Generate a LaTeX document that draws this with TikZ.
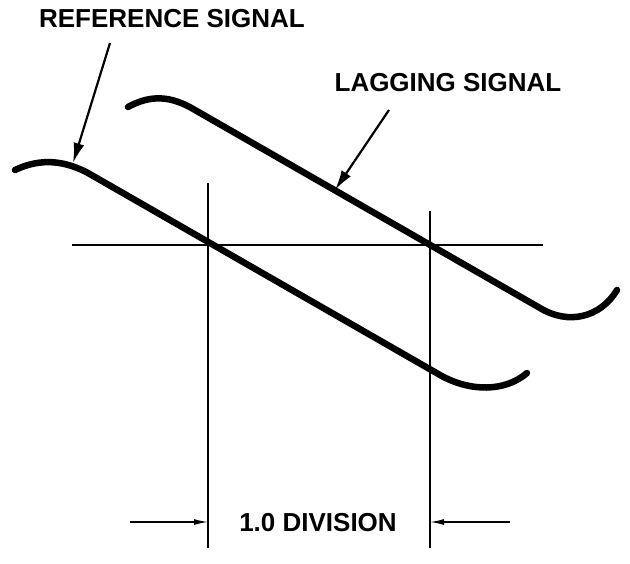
\documentclass[tikz,border=0pt]{standalone}
\usepackage{fontspec}
\setmainfont{Liberation Sans}
\usetikzlibrary{arrows.meta}

\begin{document}
\begin{tikzpicture}[x=1pt,y=-1pt,>=Latex,
 label/.style={font=\fontsize{26}{30}\selectfont\bfseries,inner sep=0pt},
 signal/.style={line width=6.5pt,line cap=round},
 grid/.style={line width=1.4pt},
 pointer/.style={line width=2.2pt,-{Latex[length=20pt,width=11pt]}},
 dim/.style={line width=1.4pt,-{Latex[length=14pt,width=6pt]}}]
\useasboundingbox (0,0) rectangle (630,563);
% labels
\node[label] (ref) at (172,19) {REFERENCE SIGNAL};
\node[label] (lag) at (448,83) {LAGGING SIGNAL};
\node[label] (div) at (318,523) {1.0 DIVISION};
% graticule
\coordinate (hl) at (72,245);
\coordinate (hr) at (543,245);
\coordinate (v1t) at (208,183);
\coordinate (v1b) at (208,548);
\coordinate (v2t) at (430,211);
\coordinate (v2b) at (430,548);
\draw[grid] (hl)--(hr);
\draw[grid] (v1t)--(v1b);
\draw[grid] (v2t)--(v2b);
% signals
\draw[signal] (15,170) .. controls (36,160) and (60,158) .. (88,173)
  -- (440,375) .. controls (470,392) and (505,392) .. (527,373);
\draw[signal] (128,107) .. controls (150,95) and (170,95) .. (195,110)
  -- (540,308) .. controls (568,325) and (600,318) .. (617,290);
% pointers
\coordinate (refTail) at (110,43);
\coordinate (refTip) at (73,163);
\coordinate (lagTail) at (389,110);
\coordinate (lagTip) at (335,190);
\draw[pointer] (refTail)--(refTip);
\draw[pointer] (lagTail)--(lagTip);
% division arrows
\coordinate (dl) at (130,522);
\coordinate (dr) at (510,522);
\draw[dim] (dl)--(v1b|-dl);
\draw[dim] (dr)--(v2b|-dr);
\end{tikzpicture}
\end{document}
